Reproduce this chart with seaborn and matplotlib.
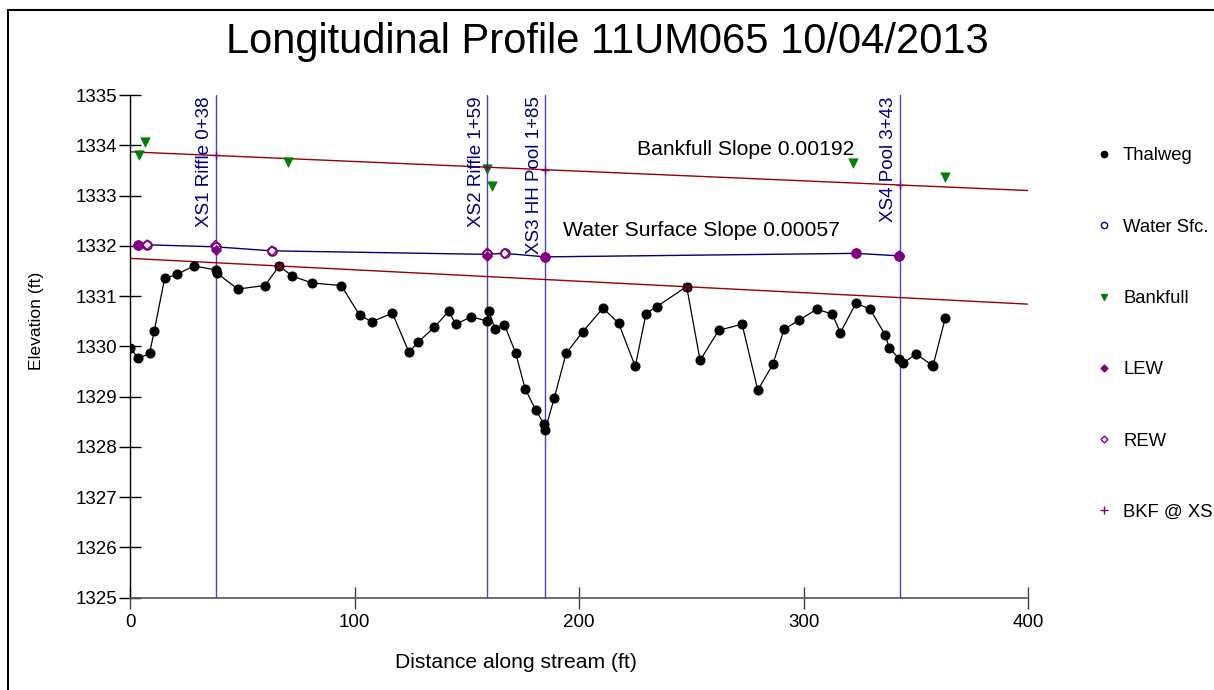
import numpy as np
import pandas as pd
import matplotlib.pyplot as plt
import seaborn as sns
from matplotlib.lines import Line2D

# thalweg survey points (distance ft, elevation ft)
thal_x = [0.0, 3.6, 8.6, 10.7, 15.3, 20.7, 28.4, 38.0, 38.5, 47.9, 60.0, 66.4, 72.1, 81.0, 94.0,
          102.2, 107.6, 116.8, 124.2, 128.1, 135.5, 141.9, 145.0, 152.0, 159.1, 159.7, 162.5,
          166.7, 171.7, 175.9, 180.7, 184.4, 184.9, 188.9, 194.2, 201.6, 210.6, 217.6, 225.0,
          229.8, 234.6, 247.9, 253.9, 262.2, 272.6, 279.6, 286.3, 291.3, 298.0, 305.9, 312.8,
          316.4, 323.3, 329.6, 336.5, 338.1, 342.7, 344.5, 350.1, 357.4, 357.6, 363.1]
thal_y = [1329.97, 1329.76, 1329.86, 1330.31, 1331.35, 1331.43, 1331.60, 1331.52, 1331.46, 1331.14,
          1331.21, 1331.60, 1331.40, 1331.26, 1331.21, 1330.62, 1330.49, 1330.66, 1329.88, 1330.08,
          1330.38, 1330.70, 1330.44, 1330.59, 1330.50, 1330.70, 1330.35, 1330.43, 1329.87, 1329.16,
          1328.73, 1328.45, 1328.34, 1328.97, 1329.86, 1330.29, 1330.76, 1330.46, 1329.60, 1330.65,
          1330.79, 1331.19, 1329.72, 1330.32, 1330.44, 1329.13, 1329.64, 1330.34, 1330.52, 1330.74,
          1330.64, 1330.27, 1330.86, 1330.74, 1330.22, 1329.97, 1329.75, 1329.67, 1329.85, 1329.62,
          1329.60, 1330.56]

wsf_x = [3.6, 7.6, 38.0, 63.1, 159.1, 166.8, 184.9, 323.3, 342.7]
wsf_y = [1332.02, 1332.02, 1331.98, 1331.90, 1331.83, 1331.85, 1331.78, 1331.85, 1331.80]

lew_x = [3.6, 38.0, 159.1, 184.9, 323.3, 342.7]
lew_y = [1332.02, 1331.92, 1331.80, 1331.78, 1331.85, 1331.80]
rew_x = [7.6, 38.0, 63.1, 159.1, 166.8, 342.7]
rew_y = [1332.02, 1332.01, 1331.90, 1331.86, 1331.85, 1331.80]

bkf_x = [3.7, 6.6, 70.4, 159.1, 161.3, 322.2, 363.1]
bkf_y = [1333.81, 1334.07, 1333.67, 1333.52, 1333.18, 1333.64, 1333.36]

# bankfull slope line and lower slope line
bkf_line_x = [0, 400]
bkf_line_y = [1333.87, 1333.10]
low_line_x = [0, 400]
low_line_y = [1331.75, 1330.84]
low_pts_x = [66.4, 247.9]
low_pts_y = [1331.60, 1331.19]

xs_pos = [38, 159, 185, 343]
xs_names = ['XS1 Riffle 0+38', 'XS2 Riffle 1+59', 'XS3 HH Pool 1+85', 'XS4 Pool 3+43']
xs_bkf = [1333.80, 1333.56, 1333.51, 1333.21]

sns.set_style('white')
plt.rcParams['font.family'] = ['Liberation Sans', 'DejaVu Sans']
plt.rcParams['text.color'] = 'black'
plt.rcParams['axes.labelcolor'] = 'black'

fig = plt.figure(figsize=(12.14, 6.9), dpi=100)
ax = fig.add_axes([0.1073, 0.1338, 0.7395, 0.7285])

navy = '#000080'
purple = '#800080'
red = '#9b0000'

for xp, nm in zip(xs_pos, xs_names):
    ax.axvline(xp, color='#4848b0', lw=1, zorder=1)
    ax.annotate(nm, (xp, 1335), xytext=(-8, -1), textcoords='offset points',
                rotation=90, ha='center', va='top', color=navy, fontsize=13.5)

ax.plot(bkf_line_x, bkf_line_y, color=red, lw=1, zorder=2)
ax.plot(low_line_x, low_line_y, color=red, lw=1, zorder=2)
ax.plot(wsf_x, wsf_y, color=navy, lw=1, zorder=2)

df_t = pd.DataFrame({'x': thal_x, 'y': thal_y})
sns.lineplot(data=df_t, x='x', y='y', color='black', lw=0.9, marker='o', markersize=6.5,
             markeredgecolor='black', estimator=None, sort=False, ax=ax, zorder=3)
ax.scatter(low_pts_x, low_pts_y, marker='x', s=30, color='#700030', lw=1.5, zorder=4)

sns.scatterplot(x=wsf_x, y=wsf_y, marker='o', s=40, facecolor='white', edgecolor=purple,
                linewidth=1.3, ax=ax, zorder=4)
sns.scatterplot(x=lew_x, y=lew_y, marker='D', s=28, color=purple, edgecolor=purple, ax=ax, zorder=5)
sns.scatterplot(x=rew_x, y=rew_y, marker='D', s=24, facecolor='none', edgecolor=purple,
                linewidth=1, ax=ax, zorder=5)
sns.scatterplot(x=bkf_x, y=bkf_y, marker='v', s=45, color='#008000', edgecolor='#008000', ax=ax, zorder=4)
ax.scatter(xs_pos, xs_bkf, marker='+', s=40, color=purple, lw=1, zorder=5)

ax.text(226, 1333.91, 'Bankfull Slope 0.00192', fontsize=15.2, va='center', ha='left')
ax.text(193, 1332.31, 'Water Surface Slope 0.00057', fontsize=15.2, va='center', ha='left')

ax.set_xlim(0, 400)
ax.set_ylim(1325, 1335)
ax.set_xticks([0, 100, 200, 300, 400])
ax.set_yticks(range(1325, 1336))
ax.set_xlabel('')
ax.set_ylabel('')
for s in ['top', 'right']:
    ax.spines[s].set_visible(False)
ax.spines['left'].set_color('black')
ax.spines['bottom'].set_color('#555555')
ax.spines['left'].set_linewidth(1)
ax.spines['bottom'].set_linewidth(1.2)
ax.tick_params(axis='y', left=True, direction='inout', length=15.8, width=1, labelsize=13.5, pad=1.5,
               colors='black')
ax.tick_params(axis='x', bottom=True, direction='inout', length=15.8, width=1, labelsize=13.5, pad=4,
               color='#444444', labelcolor='black')

fig.text(0.5, 0.939, 'Longitudinal Profile 11UM065 10/04/2013', ha='center', va='center',
         fontsize=30, color='black')
fig.text(516 / 1214, 1 - 663 / 690, 'Distance along stream (ft)', ha='center', va='center',
         fontsize=15.2, color='black')
fig.text(37 / 1214, 1 - 321 / 690, 'Elevation (ft)', ha='center', va='center', rotation=90,
         fontsize=12.6, color='black')

handles = [
    Line2D([], [], ls='', marker='o', color='black', markersize=4.5),
    Line2D([], [], ls='', marker='o', markerfacecolor='white', markeredgecolor=navy, markersize=4.5),
    Line2D([], [], ls='', marker='v', color='#008000', markersize=5),
    Line2D([], [], ls='', marker='D', color=purple, markersize=3.5),
    Line2D([], [], ls='', marker='D', markerfacecolor='white', markeredgecolor=purple, markersize=3.5),
    Line2D([], [], ls='', marker='+', color=purple, markersize=6),
]
labels = ['Thalweg', 'Water Sfc.', 'Bankfull', 'LEW', 'REW', 'BKF @ XS']
leg = fig.legend(handles, labels, loc='upper left', bbox_to_anchor=(1087 / 1214, 1 - 140 / 690),
                 frameon=False, fontsize=13.3, handlelength=1, handletextpad=0.55, labelspacing=2.94,
                 borderaxespad=0)
for t in leg.get_texts():
    t.set_color('black')

# outer frame
fig.add_artist(Line2D([8 / 1214, 8 / 1214], [0, 1 - 10 / 690], transform=fig.transFigure,
                      color='black', lw=1.5))
fig.add_artist(Line2D([8 / 1214, 1], [1 - 10 / 690, 1 - 10 / 690], transform=fig.transFigure,
                      color='black', lw=1.5))

fig.savefig('out.png', dpi=100)
